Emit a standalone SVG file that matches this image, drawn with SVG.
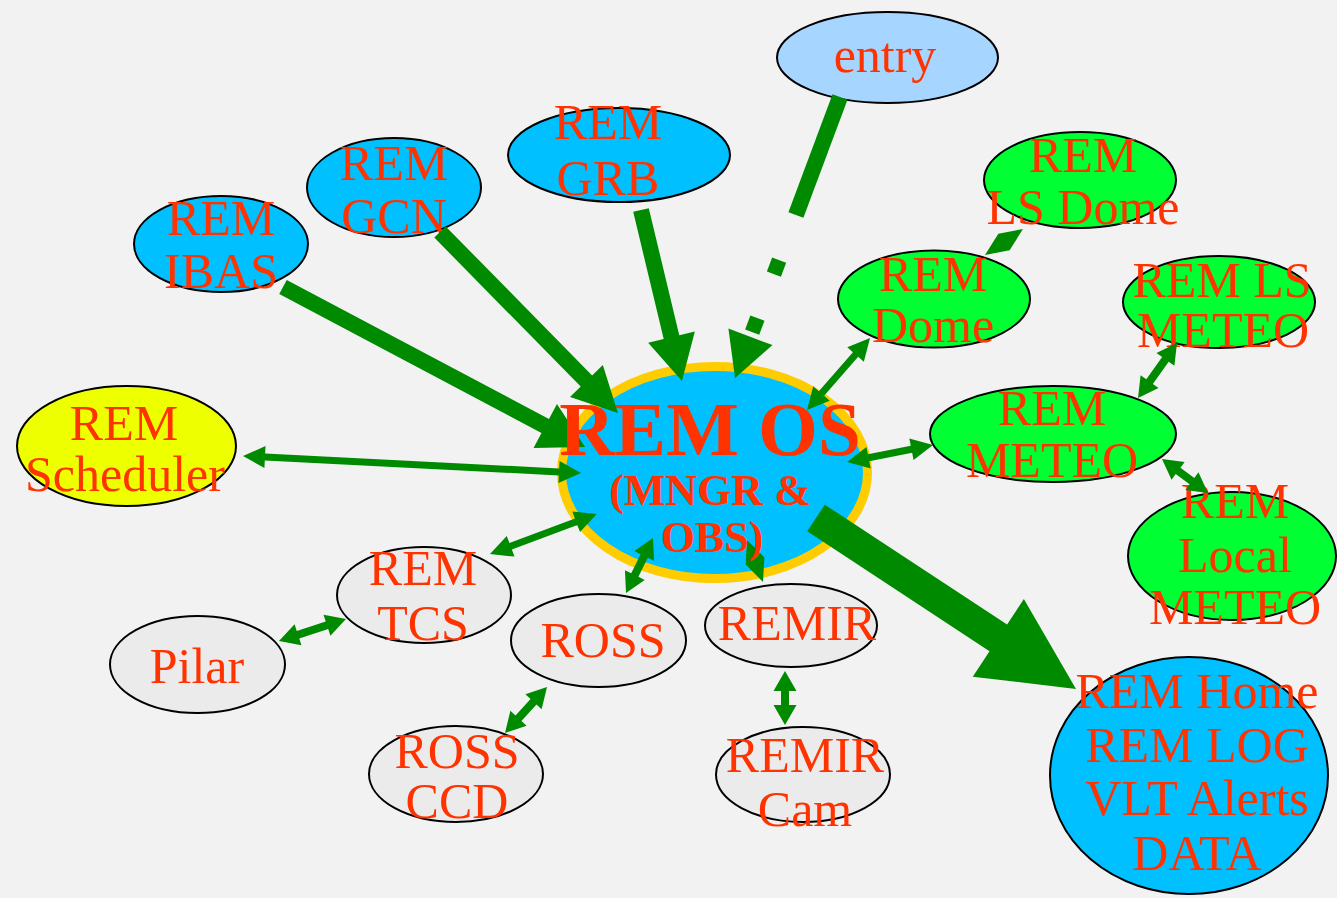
<svg xmlns="http://www.w3.org/2000/svg" width="1337" height="898" viewBox="0 0 1337 898">
<style>
.n{stroke:#000;stroke-width:2}
.blue{fill:#00c0ff}
.green{fill:#00ff33}
.grey{fill:#ebebeb}
.t{font-family:"Liberation Serif","Times New Roman",serif;font-size:50px;fill:#ff3300;text-anchor:middle}
.b{font-weight:bold}
.c{fill:#008a00}
</style>
<rect width="1337" height="898" fill="#f2f2f2"/>
<g id="node-entry"><ellipse class="n" cx="887.5" cy="57.5" rx="110.5" ry="45.5" fill="#a6d5ff"/><text class="t" x="885" y="72">entry</text></g>
<g id="node-grb"><ellipse class="n blue" cx="619" cy="155" rx="111" ry="47"/><text class="t" x="608" y="139">REM</text><text class="t" x="608" y="195">GRB</text></g>
<g id="node-gcn"><ellipse class="n blue" cx="394" cy="187.5" rx="87" ry="49.5"/><text class="t" x="394" y="180">REM</text><text class="t" x="394" y="233">GCN</text></g>
<g id="node-ibas"><ellipse class="n blue" cx="221" cy="244" rx="87" ry="48"/><text class="t" x="221" y="235">REM</text><text class="t" x="221" y="288">IBAS</text></g>
<g id="node-lsdome"><ellipse class="n green" cx="1080" cy="180" rx="96" ry="48"/><text class="t" x="1083" y="172">REM</text><text class="t" x="1083" y="224">LS Dome</text></g>
<g id="node-dome"><ellipse class="n green" cx="934" cy="299" rx="96" ry="48.5"/><text class="t" x="933" y="291">REM</text><text class="t" x="933" y="342">Dome</text></g>
<g id="node-lsmeteo"><ellipse class="n green" cx="1219" cy="302" rx="96" ry="46"/><text class="t" x="1222" y="297">REM LS</text><text class="t" x="1223" y="347">METEO</text></g>
<g id="node-meteo"><ellipse class="n green" cx="1053" cy="434" rx="123" ry="48"/><text class="t" x="1052" y="425">REM</text><text class="t" x="1052" y="477">METEO</text></g>
<g id="node-localmeteo"><ellipse class="n green" cx="1232" cy="556" rx="104" ry="64"/><text class="t" x="1235" y="518">REM</text><text class="t" x="1235" y="572">Local</text><text class="t" x="1235" y="624">METEO</text></g>
<g id="node-scheduler"><ellipse class="n" cx="126.5" cy="446" rx="109.5" ry="60" fill="#eeff00"/><text class="t" x="124" y="440">REM</text><text class="t" x="125" y="491">Scheduler</text></g>
<g id="node-tcs"><ellipse class="n grey" cx="424" cy="595" rx="87" ry="48"/><text class="t" x="423" y="585">REM</text><text class="t" x="423" y="640">TCS</text></g>
<g id="node-pilar"><ellipse class="n grey" cx="197.5" cy="664.5" rx="87.5" ry="48.5"/><text class="t" x="197" y="683">Pilar</text></g>
<g id="node-ross"><ellipse class="n grey" cx="598.5" cy="640.5" rx="87.5" ry="46.5"/><text class="t" x="603" y="657">ROSS</text></g>
<g id="node-remir"><ellipse class="n grey" cx="791" cy="625.5" rx="86" ry="41.5"/><text class="t" x="797" y="640">REMIR</text></g>
<g id="node-rossccd"><ellipse class="n grey" cx="456" cy="774" rx="87" ry="48"/><text class="t" x="457" y="768">ROSS</text><text class="t" x="457" y="818">CCD</text></g>
<g id="node-remircam"><ellipse class="n grey" cx="803" cy="774.5" rx="87" ry="47.5"/><text class="t" x="805" y="772">REMIR</text><text class="t" x="805" y="826">Cam</text></g>
<g id="node-home"><ellipse class="n blue" cx="1189" cy="775.5" rx="139" ry="118.5"/><text class="t" x="1197" y="708">REM Home</text><text class="t" x="1197" y="762">REM LOG</text><text class="t" x="1197" y="815">VLT Alerts</text><text class="t" x="1197" y="870">DATA</text></g>
<g id="node-remos"><ellipse cx="714.5" cy="472.5" rx="153" ry="106" fill="#00c0ff" stroke="#ffcc00" stroke-width="9"/></g>
<g id="connectors" class="c">
<polygon transform="translate(283,287) rotate(27.92)" points="0,-8 296.8,-8 296.8,-25 341.8,0 296.8,25 296.8,8 0,8"/>
<polygon transform="translate(440,232) rotate(45.5)" points="0,-8 208.9,-8 208.9,-23 253.9,0 208.9,23 208.9,8 0,8"/>
<polygon transform="translate(641,210) rotate(76.52)" points="0,-8 130.8,-8 130.8,-24 175.8,0 130.8,24 130.8,8 0,8"/>
<g transform="translate(840,97) rotate(110.48)">
<rect x="0" y="-8" width="126" height="16"/>
<rect x="174" y="-7.5" width="15" height="15"/>
<rect x="236" y="-7.5" width="15" height="15"/>
<polygon points="256,-23.5 300,0 256,23.5"/>
</g>
<polygon transform="translate(816,518) rotate(33.33)" points="0,-16 218.2,-16 218.2,-46.5 311.2,0 218.2,46.5 218.2,16 0,16"/>
<polygon transform="translate(243,456) rotate(2.88)" points="0,0 22,-11 22,-3.5 316.4,-3.5 316.4,-11 338.4,0 316.4,11 316.4,3.5 22,3.5 22,11"/>
<polygon transform="translate(490,554) rotate(-20.5)" points="0,0 22,-11 22,-3.5 92,-3.5 92,-11 114,0 92,11 92,3.5 22,3.5 22,11"/>
<polygon transform="translate(279,641) rotate(-18.18)" points="0,0 20,-11 20,-4 50.5,-4 50.5,-11 70.5,0 50.5,11 50.5,4 20,4 20,11"/>
<polygon transform="translate(505,733) rotate(-47.6)" points="0,0 20,-11 20,-4 42.3,-4 42.3,-11 62.3,0 42.3,11 42.3,4 20,4 20,11"/>
<polygon transform="translate(626,593) rotate(-63.85)" points="0,0 20,-11 20,-4 41.3,-4 41.3,-11 61.3,0 41.3,11 41.3,4 20,4 20,11"/>
<polygon transform="translate(747,540) rotate(69.15)" points="0,0 22.5,-10 45,0 22.5,10"/>
<polygon transform="translate(785,671) rotate(90)" points="0,0 20,-11.5 20,-4 34,-4 34,-11.5 54,0 34,11.5 34,4 20,4 20,11.5"/>
<polygon transform="translate(985,255) rotate(-34.4)" points="0,0 23,-10 46,0 23,10"/>
<polygon transform="translate(807,410) rotate(-48.8)" points="0,0 22,-11 22,-3.5 73.7,-3.5 73.7,-11 95.7,0 73.7,11 73.7,3.5 22,3.5 22,11"/>
<polygon transform="translate(847,462) rotate(-11.18)" points="0,0 22,-11 22,-3.5 65.7,-3.5 65.7,-11 87.7,0 65.7,11 65.7,3.5 22,3.5 22,11"/>
<polygon transform="translate(1138,398) rotate(-54.65)" points="0,0 20,-11 20,-4 47.4,-4 47.4,-11 67.4,0 47.4,11 47.4,4 20,4 20,11"/>
<polygon transform="translate(1162,459) rotate(36.47)" points="0,0 20,-11 20,-4 37.2,-4 37.2,-11 57.2,0 37.2,11 37.2,4 20,4 20,11"/>
</g>
<g id="node-remos-label">
<text class="t b" x="710" y="455" style="font-size:77px">REM OS</text>
<text class="t b" x="710" y="505" style="font-size:44px">(MNGR &amp;</text>
<text class="t b" x="712" y="552" style="font-size:44px">OBS)</text>
</g>
</svg>
